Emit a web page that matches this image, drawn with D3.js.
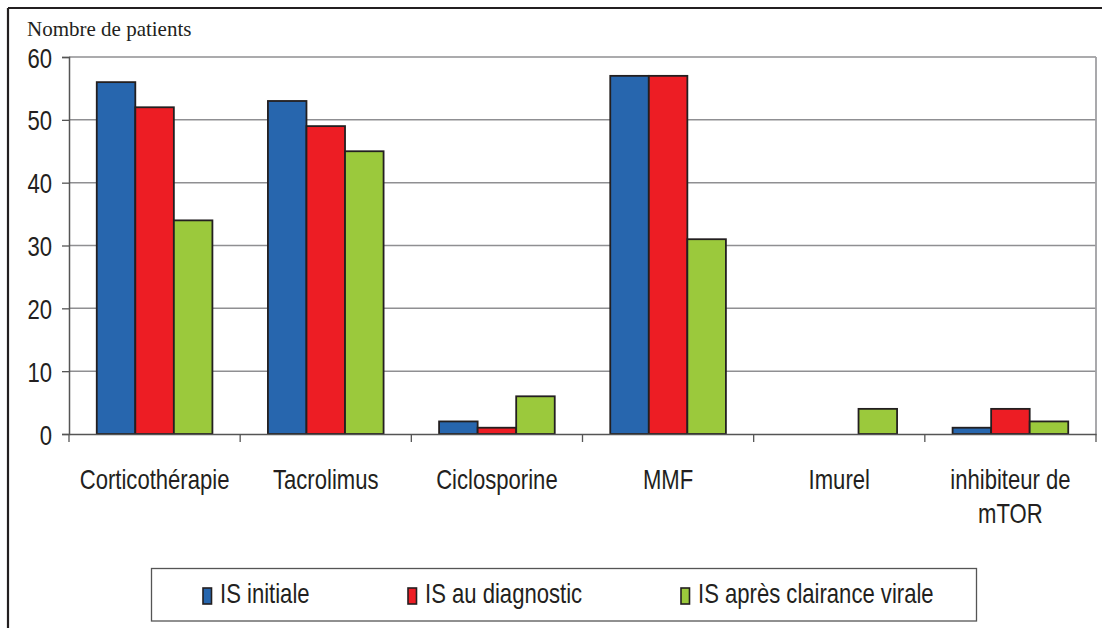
<!DOCTYPE html>
<html><head><meta charset="utf-8">
<script src="https://cdn.jsdelivr.net/npm/d3@7"></script>
<style>html,body{margin:0;padding:0;background:#fff;}svg{display:block;}</style>
</head><body>
<svg id="chart" width="1102" height="628"></svg>
<script>
const categories = ["Corticothérapie", "Tacrolimus", "Ciclosporine", "MMF", "Imurel", "inhibiteur de\nmTOR"];
const seriesNames = ["IS initiale", "IS au diagnostic", "IS après clairance virale"];
const isInitiale = [56, 53, 2, 57, 0, 1];
const isDiagnostic = [52, 49, 1, 57, 0, 4];
const isApres = [34, 45, 6, 31, 4, 2];
const yTicks = [0, 10, 20, 30, 40, 50, 60];
const yTitle = "Nombre de patients";
const colors = ["#2766ae", "#ed1d24", "#9bc93c"];

const seriesValues = [isInitiale, isDiagnostic, isApres];
const SX = 0.775;              // horizontal squeeze of the sans text
const SANS = "'Liberation Sans', Arial, sans-serif";
const svg = d3.select("#chart");

const M = {left: 69, right: 1096, top: 57, bottom: 434};
const x0 = d3.scaleBand().domain(categories).range([M.left, M.right]).paddingInner(0).paddingOuter(0);
const x1 = d3.scaleBand().domain(seriesNames).range([0, x0.bandwidth()]).paddingInner(0).paddingOuter(0.72);
const y = d3.scaleLinear().domain([0, 60]).range([M.bottom, M.top]);

// outer frame (top & left)
svg.append("line").attr("x1", 8).attr("x2", 1102).attr("y1", 8).attr("y2", 8).attr("stroke", "#231f20").attr("stroke-width", 2.2);
svg.append("line").attr("x1", 8).attr("x2", 8).attr("y1", 8).attr("y2", 628).attr("stroke", "#231f20").attr("stroke-width", 2.2);

// gridlines
svg.append("g").selectAll("line").data(yTicks.filter(d => d > 0)).join("line")
  .attr("x1", M.left).attr("x2", M.right)
  .attr("y1", d => y(d)).attr("y2", d => y(d))
  .attr("stroke", "#8f8f92").attr("stroke-width", 1.5);
// right border of plot
svg.append("line").attr("x1", M.right).attr("x2", M.right).attr("y1", M.top).attr("y2", M.bottom)
  .attr("stroke", "#a0a0a3").attr("stroke-width", 1.8);

// bars
const data = [];
categories.forEach((c, i) => seriesNames.forEach((s, j) => data.push({c, s, j, v: seriesValues[j][i]})));
svg.append("g").selectAll("rect").data(data.filter(d => d.v > 0)).join("rect")
  .attr("x", d => x0(d.c) + x1(d.s))
  .attr("y", d => y(d.v))
  .attr("width", x1.bandwidth())
  .attr("height", d => y(0) - y(d.v))
  .attr("fill", d => colors[d.j])
  .attr("stroke", "#231f20").attr("stroke-width", 1.8);

// y axis
const yAxis = svg.append("g").attr("transform", `translate(${M.left},0)`)
  .call(d3.axisLeft(y).tickValues(yTicks).tickSize(7).tickFormat(d3.format("d")));
yAxis.select(".domain").attr("stroke", "#555").attr("stroke-width", 1.5);
yAxis.selectAll(".tick line").attr("stroke", "#555").attr("stroke-width", 1.3);
yAxis.selectAll(".tick text")
  .attr("x", null).attr("dy", null)
  .attr("transform", `translate(-17,0) scale(${SX},1)`)
  .attr("dominant-baseline", "central")
  .style("font-family", SANS).style("font-size", "28.5px").attr("fill", "#231f20");

// x axis
const xAxis = svg.append("g").attr("transform", `translate(0,${M.bottom})`)
  .call(d3.axisBottom(x0).tickSize(0).tickFormat(""));
xAxis.select(".domain").attr("stroke", "#555").attr("stroke-width", 1.5);
const bounds = categories.map(c => x0(c)).concat([M.right]);
svg.append("g").selectAll("line").data(bounds).join("line")
  .attr("x1", d => d).attr("x2", d => d).attr("y1", M.bottom).attr("y2", M.bottom + 8)
  .attr("stroke", "#555").attr("stroke-width", 1.3);
xAxis.selectAll(".tick").each(function(c) {
  const lines = c.split("\n");
  const t = d3.select(this).append("text")
    .attr("transform", `translate(0,0) scale(${SX},1)`)
    .attr("text-anchor", "middle")
    .style("font-family", SANS).style("font-size", "28.5px").attr("fill", "#231f20");
  lines.forEach((l, k) => t.append("tspan").attr("x", 0).attr("y", 55 + k * 34).text(l));
});

// y title
svg.append("text").attr("x", 27).attr("y", 36).text(yTitle)
  .style("font-family", "'Liberation Serif', 'Times New Roman', serif").style("font-size", "21px").attr("fill", "#231f20");

// legend
const lg = svg.append("g");
lg.append("rect").attr("x", 151.5).attr("y", 568.5).attr("width", 825).attr("height", 52.5)
  .attr("fill", "#fff").attr("stroke", "#555").attr("stroke-width", 1.3);
const legX = [203, 408, 681];
seriesNames.forEach((s, j) => {
  lg.append("rect").attr("x", legX[j]).attr("y", 588).attr("width", 8.5).attr("height", 16)
    .attr("fill", colors[j]).attr("stroke", "#231f20").attr("stroke-width", 1.6);
  lg.append("text").attr("transform", `translate(${legX[j] + 17},603) scale(${SX},1)`)
    .text(s).style("font-family", SANS).style("font-size", "28.5px").attr("fill", "#231f20");
});
</script>
</body></html>
